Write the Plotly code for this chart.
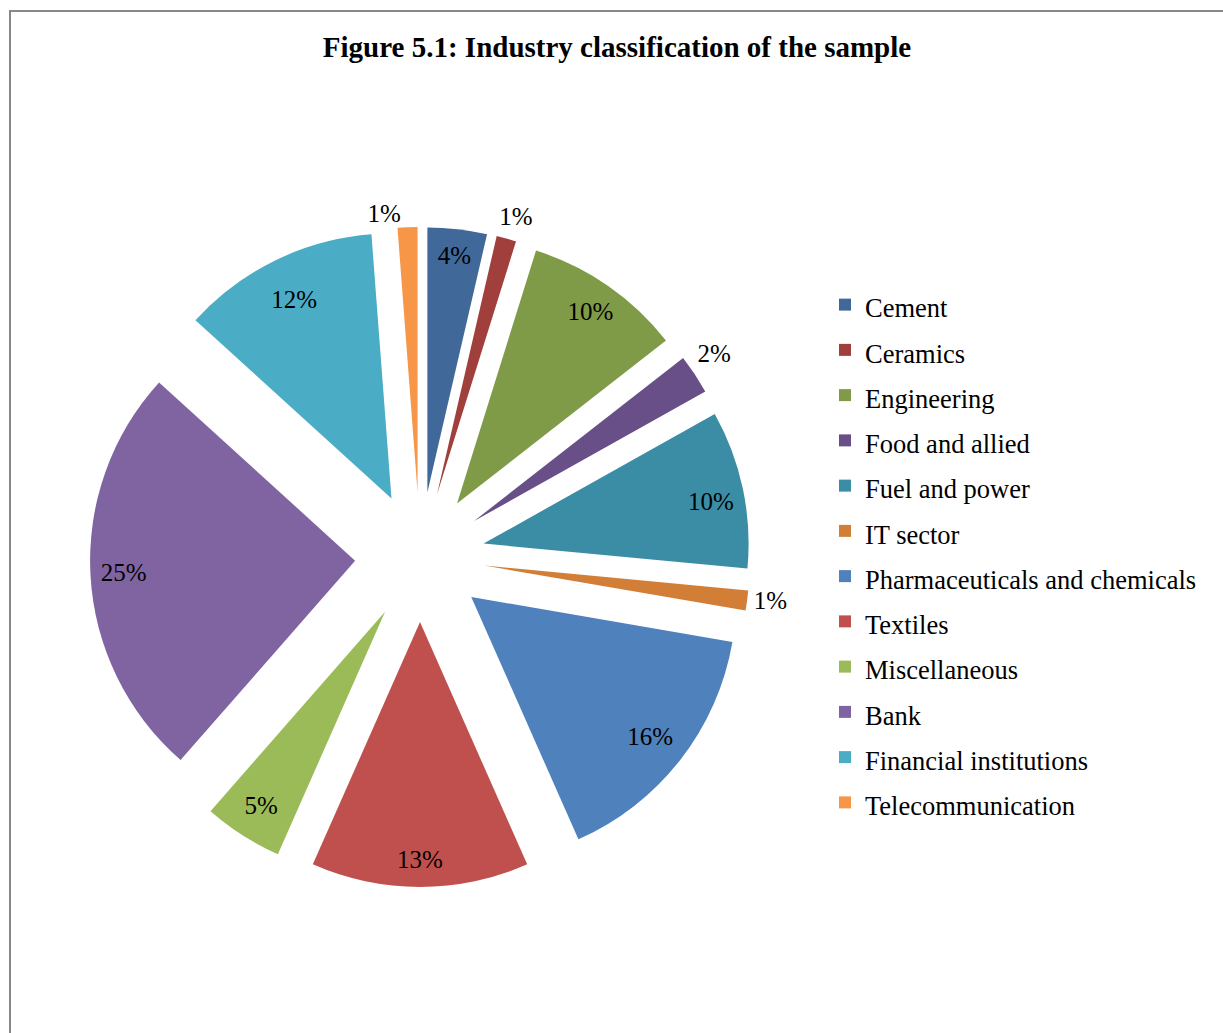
import plotly.graph_objects as go

# ---- data (number of sample firms per industry; shown as percentages) ----
industries = ["Cement", "Ceramics", "Engineering", "Food and allied", "Fuel and power",
              "IT sector", "Pharmaceuticals and chemicals", "Textiles", "Miscellaneous",
              "Bank", "Financial institutions", "Telecommunication"]
firm_counts = [3, 1, 8, 2, 8, 1, 13, 11, 4, 21, 10, 1]

slice_colors = ["#406899", "#A03F3C", "#7F9B48", "#684F88", "#3B8DA5", "#D27E37",
                "#4F81BD", "#C0504D", "#9BBB59", "#8064A2", "#4BACC6", "#F79646"]

W, H = 1223, 1033
FONT = "Liberation Serif, Times New Roman, serif"
CX, CY = 420, 557          # pie centre (px)
EXPLODE_PX = 65            # explosion offset of every slice (px)
R_MAIN = 265               # pie radius (px)

# Percentage labels: (label radius, label rotation, text position per slice).
# The main pie draws some of them; transparent copies of the same pie with other
# radii draw the rest, so every label sits at Excel's "best fit" spot.
label_layers = [
    (R_MAIN, 0, {"Cement": "inside", "Miscellaneous": "inside",
                 "IT sector": "outside", "Telecommunication": "outside"}),
    (202, 0, {"Bank": "outside", "Fuel and power": "outside"}),
    (334, 0, {"Pharmaceuticals and chemicals": "inside", "Textiles": "inside"}),
    (304, 0, {"Engineering": "inside", "Financial institutions": "inside"}),
    (271, -2.7, {"Ceramics": "outside", "Food and allied": "outside"}),
]


def px_x(p):
    return p / W


def px_y(p):
    return 1 - p / H


def domain_for(radius):
    half = radius + EXPLODE_PX
    return dict(x=[px_x(CX - half), px_x(CX + half)],
                y=[px_y(CY + half), px_y(CY - half)])


legend_labels = ["<span style='font-size:26.5px'>%s</span>" % n for n in industries]
pct_font = dict(family=FONT, size=25, color="black")

traces = []
for i, (radius, rot, positions) in enumerate(label_layers):
    is_main = i == 0
    traces.append(go.Pie(
        labels=legend_labels,
        values=firm_counts,
        sort=False,
        direction="clockwise",
        rotation=rot,
        pull=[EXPLODE_PX / radius] * len(firm_counts),
        marker=dict(colors=slice_colors if is_main else ["rgba(0,0,0,0)"] * len(firm_counts),
                    line=dict(width=0)),
        texttemplate="%{percent:.0%}",
        textposition=[positions.get(n, "none") for n in industries],
        insidetextorientation="horizontal",
        textfont=pct_font,
        hoverinfo="label+percent" if is_main else "skip",
        showlegend=is_main,
        domain=domain_for(radius),
    ))

fig = go.Figure(traces)

fig.update_layout(
    width=W, height=H,
    margin=dict(l=0, r=0, t=0, b=0, autoexpand=False),
    paper_bgcolor="white",
    plot_bgcolor="white",
    font=dict(family=FONT, color="black"),
    title=dict(text="<b>Figure 5.1: Industry classification of the sample</b>",
               x=px_x(617), xanchor="center", y=px_y(47), yanchor="middle",
               font=dict(family=FONT, size=29, color="black")),
    legend=dict(x=px_x(825), xanchor="left", y=px_y(277), yanchor="top",
                font=dict(family=FONT, size=32.5, color="black"),
                bgcolor="rgba(0,0,0,0)", borderwidth=0),
    shapes=[dict(type="rect", xref="paper", yref="paper",
                 x0=px_x(10), x1=1.05, y0=-0.05, y1=px_y(11),
                 line=dict(color="#888888", width=2), fillcolor="rgba(0,0,0,0)")],
)

fig.write_html("out.html")
